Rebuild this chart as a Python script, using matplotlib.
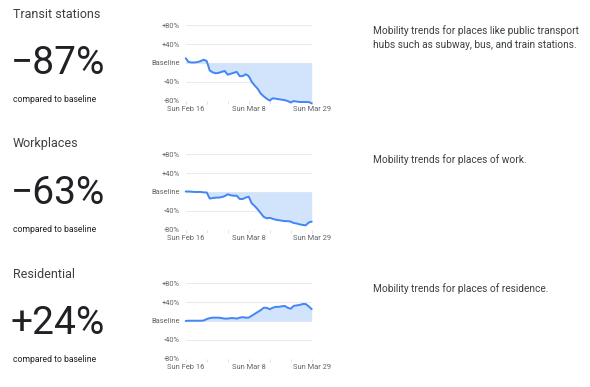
import matplotlib
matplotlib.use("Agg")
import matplotlib.pyplot as plt
import numpy as np

plt.rcParams["font.family"] = ["Roboto", "DejaVu Sans"]

W, H = 590, 387

# daily values, Sun Feb 16 .. Sun Mar 29 (43 days)
transit = [10, 2, 1, 1, 2, 4, 7, 4, -16, -20, -22, -21, -19, -17, -25, -23,
           -21, -19, -28, -28, -24, -28, -40, -48, -55, -65, -71, -76, -80,
           -75, -76, -77, -78, -79, -81, -84, -81, -82, -83, -83, -83, -83, -86]
workplaces = [1, 1, 0.5, 0, 0, 0, -1, -1, -14, -13, -12, -12, -11, -9, -5, -7,
              -8, -8, -15, -15, -12, -10, -24, -30, -37, -45, -53, -56, -55,
              -57, -59, -60, -61, -62, -62, -63, -66, -67, -69, -70, -71, -65, -63]
residential = [0, 0.5, 0.5, 0.5, 0.5, 0.5, 1, 4, 6, 7, 7, 7, 6, 5, 5, 6, 6, 5,
               7, 8, 7, 7, 11, 15, 19, 23, 28, 28, 25, 28, 30, 30, 31, 32, 28,
               26, 32, 33, 34, 36, 36, 31, 25]

titles = ["Transit stations", "Workplaces", "Residential"]
headline = ["\u221287%", "\u221263%", "+24%"]
notes = ["Mobility trends for places like public transport\nhubs such as subway, bus, and train stations.",
         "Mobility trends for places of work.",
         "Mobility trends for places of residence."]
series = [transit, workplaces, residential]

yticks = [80, 40, 0, -40, -80]
ylabels = ["+80%", "+40%", "Baseline", "-40%", "-80%"]
xticks = [0, 21, 42]
xlabels = ["Sun Feb 16", "Sun Mar 8", "Sun Mar 29"]

BLUE = "#4285f4"
FILL = "#d2e3fc"
GRID = "#e8eaed"
LABEL = "#5f6368"

fig = plt.figure(figsize=(W / 100, H / 100), dpi=100)
fig.patch.set_facecolor("white")

def fx(x):
    return x / W

def fy(y):
    return 1 - y / H

ax_top = [25.3, 154.3, 283.3]
ax_h = 75.3
offs = [0, 130, 260]
note_y = [37.5, 160, 289]

for i in range(3):
    top = ax_top[i]
    ax = fig.add_axes([fx(185.7), fy(top + ax_h), 126 / W, ax_h / H])
    days = np.arange(len(series[i]))
    vals = np.array(series[i])
    ax.fill_between(days, vals, 0, color=FILL, lw=0, zorder=1, clip_on=False)
    ax.plot(days, vals, color=BLUE, lw=1.4, zorder=3, solid_capstyle="round",
            clip_on=False)
    for t in yticks:
        ax.axhline(t, color=GRID, lw=0.8, zorder=0)
    ax.set_xlim(0, 42)
    ax.set_ylim(-80, 80)
    ax.set_yticks(yticks)
    ax.set_yticklabels(ylabels, fontsize=5.4, color=LABEL)
    ax.tick_params(axis="y", length=0, pad=4)
    ax.set_xticks(xticks)
    ax.set_xticklabels(xlabels, fontsize=5.4, color=LABEL)
    ax.set_xticks(np.arange(0, 43, 7), minor=True)
    ax.tick_params(axis="x", which="both", length=2.5, color="#dadce0", width=0.6, pad=1.5)
    for s in ax.spines.values():
        s.set_visible(False)
    ax.patch.set_alpha(0)

    o = offs[i]
    fig.text(fx(13), fy(o + 14), titles[i], fontsize=9, color="#3c4043",
             ha="left", va="center")
    fig.text(fx(11), fy(o + 63), headline[i], fontsize=28, color="#202124",
             ha="left", va="center")
    fig.text(fx(13), fy(o + 99.5), "compared to baseline", fontsize=6.2,
             color="#202124", ha="left", va="center", fontweight="normal")
    fig.text(fx(373), fy(note_y[i]), notes[i], fontsize=7.3, color="#3c4043",
             ha="left", va="center", linespacing=1.4)

fig.savefig("out.png", dpi=100)
